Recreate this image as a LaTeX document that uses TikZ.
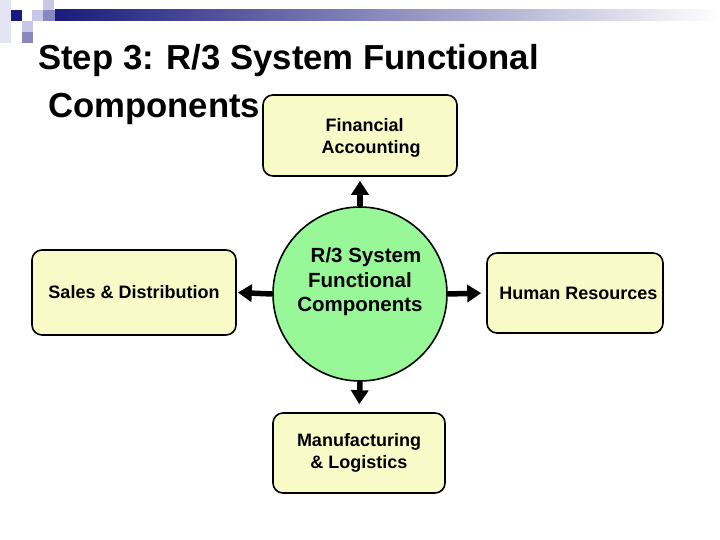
\documentclass[tikz,border=0pt]{standalone}
\usepackage{fontspec}
\setmainfont{Liberation Sans}
\usetikzlibrary{arrows.meta,shapes.geometric}
\definecolor{navy}{RGB}{26,26,124}
\definecolor{lav}{RGB}{200,200,230}
\definecolor{medb}{RGB}{136,136,192}
\definecolor{pale}{RGB}{228,228,242}
\definecolor{boxfill}{RGB}{248,251,200}
\definecolor{circfill}{RGB}{152,248,152}
\tikzset{
  box/.style={draw=black, line width=1.6pt, rounded corners=10pt, fill=boxfill,
    inner sep=0pt, font=\bfseries\fontsize{18}{21.5}\selectfont, align=center},
  hub/.style={circle, draw=black, line width=1.6pt, fill=circfill, inner sep=0pt,
    minimum size=174pt},
  hubtext/.style={font=\bfseries\fontsize{20.5}{24.5}\selectfont, align=center, inner sep=0pt},
  boxtext/.style={font=\bfseries\fontsize{18}{21.5}\selectfont, inner sep=0pt},
  titletext/.style={font=\bfseries\fontsize{34.7}{40}\selectfont, inner sep=0pt, anchor=base west},
  bigarrow/.style={line width=5.5pt, -{Triangle[width=17pt,length=14pt]}}
}
\begin{document}
\begin{tikzpicture}[x=1pt,y=-1pt]
\useasboundingbox (0,0) rectangle (720,540);
\fill[white] (0,0) rectangle (720,540);
% header decoration
\shade[left color=navy, right color=white] (55,10) rectangle (720,21);
\fill[pale] (0,0) rectangle (11,43);
\fill[navy] (11,10) rectangle (22,21);
\fill[lav] (32,10) rectangle (43,21);
\fill[lav] (43,0) rectangle (54,10);
\fill[medb] (43,10) rectangle (55,21);
\fill[lav] (22,21) rectangle (33,32);
\fill[medb] (22,32) rectangle (33,43);
% title
\node[titletext] (t1) at (38,70) {Step 3: R/3 System Functional};
\node[titletext] (t2) at (48,118) {Components};
% boxes
\node[box, minimum width=194pt, minimum height=81pt] (fin) at (360,135.5) {};
\node[boxtext, align=left] (fint) at (371,138) {\hspace*{4pt}Financial\\Accounting};
\node[box, minimum width=204pt, minimum height=85pt] (sales) at (134,292.5) {Sales \& Distribution};
\node[box, minimum width=176pt, minimum height=80pt] (hr) at (575,293) {\hspace*{7pt}Human Resources};
\node[box, minimum width=172pt, minimum height=80pt] (mfg) at (359,453) {Manufacturing\\\& Logistics};
% hub
\node[hub] (c) at (360,294) {};
\node[hubtext] (ct) at (360,282) {\hspace*{12pt}R/3 System\\Functional\\Components};
% arrows
\draw[bigarrow, shorten >=4pt] (c.north) -- (fin.south);
\draw[bigarrow, shorten >=1pt] (c.west) -- (sales.east);
\draw[bigarrow, shorten >=5pt] (c.east) -- (hr.west);
\draw[bigarrow, shorten >=8pt] (c.south) -- (mfg.north);
\end{tikzpicture}
\end{document}
